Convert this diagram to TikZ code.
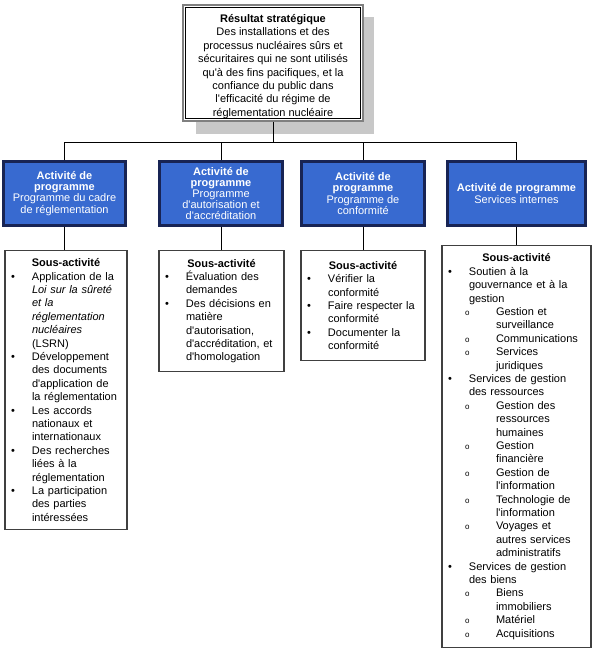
\documentclass[tikz,border=0pt]{standalone}
\usepackage{fontspec}
\setmainfont{Liberation Sans}[Ligatures=TeXOff]

\definecolor{progblue}{RGB}{56,106,208}
\definecolor{progedge}{RGB}{24,36,84}
\definecolor{ombre}{RGB}{200,200,200}

\newcommand{\puce}{\makebox[21pt][l]{\textbullet}}
\newcommand{\suite}{\hspace*{21pt}}
\newcommand{\souspuce}{\hspace*{17pt}\makebox[31pt][l]{\fontsize{8}{8}\selectfont o}}
\newcommand{\soussuite}{\hspace*{48pt}}

\tikzset{
  resbox/.style={draw=black!50, line width=1.8pt, fill=white, align=center,
    minimum width=180pt, minimum height=116pt, inner sep=0pt,
    font=\fontsize{11}{13.4}\selectfont},
  progbox/.style={draw=progedge, line width=1.4pt, fill=progblue, text=white,
    align=center, minimum height=65pt, inner sep=0pt,
    font=\fontsize{11}{11.2}\selectfont},
  subbox/.style={draw=black!75, line width=1.2pt, fill=white, anchor=north,
    align=left, inner xsep=6pt, inner ysep=2pt,
    font=\fontsize{11}{13.4}\selectfont},
  link/.style={line width=1pt}
}

\begin{document}
\begin{tikzpicture}[x=1pt,y=1pt]
  \useasboundingbox (0,0) rectangle (595,650);

  \coordinate (bus) at (273,507);

  % resultat strategique
  \fill[ombre] (196,516) rectangle (374,633);
  \node[resbox] (res) at (273,587) {\rule{0pt}{15pt}\textbf{Résultat stratégique}\\
    Des installations et des\\
    processus nucléaires sûrs et\\
    sécuritaires qui ne sont utilisés\\
    qu'à des fins pacifiques, et la\\
    confiance du public dans\\
    l'efficacité du régime de\\
    réglementation nucléaire};
  \draw[line width=1.1pt] ([shift={(3.5,-3.5)}]res.north west) rectangle ([shift={(-3.5,3.5)}]res.south east);

  % activites de programme
  \node[progbox, minimum width=123pt] (p1) at (64.5,456.5)
    {\textbf{Activité de}\\\textbf{programme}\\Programme du cadre\\de réglementation};
  \node[progbox, minimum width=124pt] (p2) at (221,456.5)
    {\textbf{Activité de}\\\textbf{programme}\\Programme\\d'autorisation et\\d'accréditation};
  \node[progbox, minimum width=124pt] (p3) at (363,456.5)
    {\textbf{Activité de}\\\textbf{programme}\\Programme de\\conformité};
  \node[progbox, minimum width=139pt] (p4) at (516.5,456.5)
    {\textbf{Activité de programme}\\Services internes};
  \foreach \n in {p1,p2,p3,p4}
    \draw[progedge, line width=0.8pt] ([shift={(2.5,-2.5)}]\n.north west) rectangle ([shift={(-2.5,2.5)}]\n.south east);

  % sous-activites
  \node[subbox, text width=110pt, minimum width=122pt, minimum height=279pt] (s1) at (66,400)
    {\centerline{\textbf{Sous-activité}}
    \puce Application de la\\
    \suite\textit{Loi sur la sûreté}\\
    \suite\textit{et la}\\
    \suite\textit{réglementation}\\
    \suite\textit{nucléaires}\\
    \suite(LSRN)\\
    \puce Développement\\
    \suite des documents\\
    \suite d'application de\\
    \suite la réglementation\\
    \puce Les accords\\
    \suite nationaux et\\
    \suite internationaux\\
    \puce Des recherches\\
    \suite liées à la\\
    \suite réglementation\\
    \puce La participation\\
    \suite des parties\\
    \suite intéressées};
  \node[subbox, text width=113pt, minimum width=125pt, minimum height=121pt] (s2) at (221.5,400)
    {\centerline{\textbf{Sous-activité}}
    \puce Évaluation des\\
    \suite demandes\\
    \puce Des décisions en\\
    \suite matière\\
    \suite d'autorisation,\\
    \suite d'accréditation, et\\
    \suite d'homologation};
  \node[subbox, text width=112pt, minimum width=124pt, minimum height=110pt] (s3) at (363,400)
    {\centerline{\textbf{Sous-activité}}
    \puce Vérifier la\\
    \suite conformité\\
    \puce Faire respecter la\\
    \suite conformité\\
    \puce Documenter la\\
    \suite conformité};
  \node[subbox, text width=137pt, minimum width=149pt, minimum height=402pt] (s4) at (516.5,405)
    {\centerline{\textbf{Sous-activité}}
    \puce Soutien à la\\
    \suite gouvernance et à la\\
    \suite gestion\\
    \souspuce Gestion et\\
    \soussuite surveillance\\
    \souspuce Communications\\
    \souspuce Services\\
    \soussuite juridiques\\
    \puce Services de gestion\\
    \suite des ressources\\
    \souspuce Gestion des\\
    \soussuite ressources\\
    \soussuite humaines\\
    \souspuce Gestion\\
    \soussuite financière\\
    \souspuce Gestion de\\
    \soussuite l'information\\
    \souspuce Technologie de\\
    \soussuite l'information\\
    \souspuce Voyages et\\
    \soussuite autres services\\
    \soussuite administratifs\\
    \puce Services de gestion\\
    \suite des biens\\
    \souspuce Biens\\
    \soussuite immobiliers\\
    \souspuce Matériel\\
    \souspuce Acquisitions};

  % liaisons
  \draw[link] (res.south) -- (bus);
  \draw[link] (p1.north) |- (p4.north |- bus) -- (p4.north);
  \draw[link] (p2.north) -- (p2.north |- bus);
  \draw[link] (p3.north) -- (p3.north |- bus);
  \foreach \n in {1,2,3,4}
    \draw[link] (p\n.south) -- (p\n.south |- s\n.north);

\end{tikzpicture}
\end{document}
